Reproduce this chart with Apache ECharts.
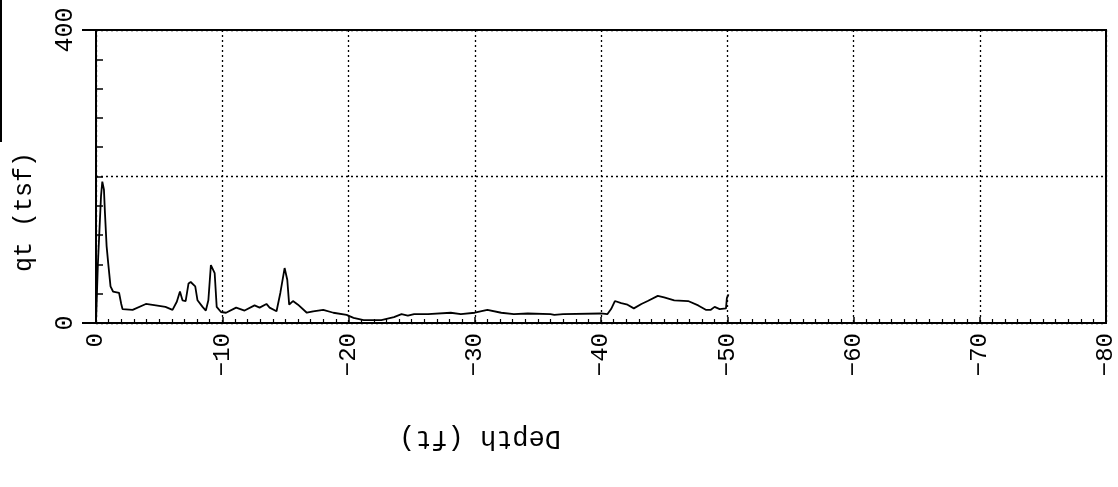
<!DOCTYPE html>
<html>
<head>
<meta charset="utf-8">
<script src="https://cdn.jsdelivr.net/npm/echarts@6/dist/echarts.min.js"></script>
<style>
html,body{margin:0;padding:0;background:#fff;}
#chart{width:1118px;height:487px;}
</style>
</head>
<body>
<div id="chart"></div>
<script>
// Depth (ft), negative downward
var depth = [0, -0.15, -0.4, -0.5, -0.63, -0.71, -0.84, -0.97, -1.15, -1.35,
  -1.83, -2.0, -2.1, -2.9, -3.95, -4.74, -5.5, -6.06, -6.4, -6.65,
  -6.85, -7.1, -7.33, -7.5, -7.86, -8.04, -8.44, -8.7, -8.9, -9.1,
  -9.2, -9.4, -9.56, -9.9, -10.3, -11.1, -11.77, -12.56, -12.96, -13.5,
  -13.75, -14.3, -14.6, -14.94, -15.15, -15.3, -15.6, -16.0, -16.7, -17.2,
  -18.0, -18.8, -19.85, -20.4, -21.2, -22.6, -23.6, -24.2, -24.7, -25.2,
  -26.3, -28.1, -28.9, -30.0, -31.0, -32.1, -33.1, -34.2, -36.0, -36.3,
  -37.0, -40.0, -40.5, -40.8, -41.1, -41.6, -42.1, -42.6, -43.2, -43.7,
  -44.5, -45.0, -45.8, -46.9, -47.7, -48.3, -48.7, -49.0, -49.4, -49.9,
  -49.97, -50.1];
// Cone tip resistance qt (tsf)
var qt = [0, 81, 174, 193, 182, 150, 105, 81, 50, 43,
  41, 26, 19, 18, 26, 24, 22, 18, 29, 43,
  31, 30, 54, 56, 50, 31, 22, 17, 31, 79,
  81, 68, 22, 15, 14, 21, 17, 24, 21, 26,
  21, 16, 41, 75, 59, 25, 30, 25, 14, 16,
  18, 14, 11, 7, 4, 4, 8, 12, 10, 12,
  12, 14, 12, 14, 18, 14, 12, 13, 12, 11,
  12, 13, 12, 19, 30, 27, 25, 20, 26, 30,
  37, 35, 31, 30, 24, 18, 18, 22, 19, 20,
  34, 39];
var xTitle = 'Depth (ft)';
var yTitle = 'qt (tsf)';
var xMin = -80, xMax = 0, xStep = 10;
var yMin = 0, yMax = 400;

var FONT = 'Liberation Mono';
var pts = depth.map(function (d, i) { return [d, qt[i]]; });
function fmt(v) { return String(v).replace('-', '\u2212'); }

var chart = echarts.init(document.getElementById('chart'), null, {renderer: 'canvas'});
chart.setOption({
  animation: false,
  backgroundColor: '#fff',
  grid: {left: 96, right: 10, top: 30, bottom: 164, show: true,
    borderColor: '#000', borderWidth: 2, backgroundColor: 'transparent'},
  xAxis: {
    type: 'value', min: xMin, max: xMax, interval: xStep, inverse: true,
    axisLine: {show: true, lineStyle: {color: '#000', width: 2}},
    axisTick: {show: true, inside: true, length: 6, lineStyle: {color: '#000', width: 1.5}},
    minorTick: {show: true, splitNumber: 10, length: 4, lineStyle: {color: '#000', width: 1.2}},
    axisLabel: {rotate: 90, margin: 10, fontSize: 24, fontFamily: FONT, color: '#000', formatter: fmt},
    splitLine: {show: true, lineStyle: {color: '#000', type: [2, 3], width: 1.3}}
  },
  yAxis: [{
    type: 'value', min: yMin, max: yMax, interval: 400, position: 'left',
    axisLine: {show: true, lineStyle: {color: '#000', width: 2}},
    axisTick: {show: true, inside: false, length: 14, lineStyle: {color: '#000', width: 2}},
    axisLabel: {rotate: 90, margin: 18, fontSize: 25, fontFamily: FONT, color: '#000'},
    splitLine: {show: false}
  }, {
    type: 'value', min: yMin, max: yMax, interval: 200, position: 'left',
    axisLine: {show: false},
    axisTick: {show: true, inside: true, length: 7, lineStyle: {color: '#000', width: 1.5}},
    minorTick: {show: true, splitNumber: 5, length: 7, lineStyle: {color: '#000', width: 1.5}},
    axisLabel: {show: false},
    splitLine: {show: true, lineStyle: {color: '#000', type: [2, 3], width: 1.3}}
  }],
  series: [{
    type: 'line', data: pts, yAxisIndex: 0, showSymbol: false, symbol: 'none',
    lineStyle: {color: '#000', width: 1.8}, z: 5
  }],
  graphic: [
    {type: 'text', x: 24, y: 212, rotation: Math.PI / 2,
      style: {text: yTitle, font: '25px "' + FONT + '"', fill: '#000', textAlign: 'center', textVerticalAlign: 'middle'}},
    {type: 'text', x: 480, y: 438, rotation: Math.PI,
      style: {text: xTitle, font: '27px "' + FONT + '"', fill: '#000', textAlign: 'center', textVerticalAlign: 'middle'}},
    {type: 'line', shape: {x1: 1, y1: 0, x2: 1, y2: 142}, style: {stroke: '#000', lineWidth: 2}}
  ]
});
</script>
</body>
</html>
